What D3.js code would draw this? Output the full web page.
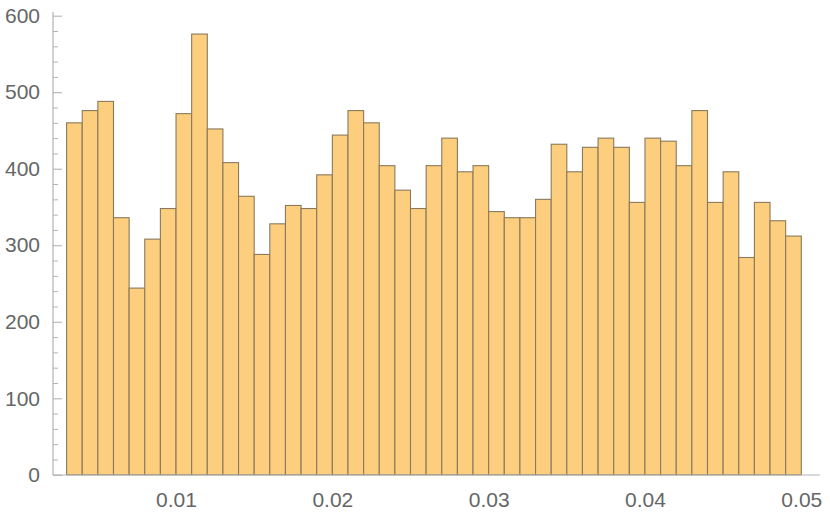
<!DOCTYPE html>
<html>
<head>
<meta charset="utf-8">
<script src="https://cdn.jsdelivr.net/npm/d3@7"></script>
<style>
  body { margin: 0; background: #fff; }
  svg { display: block; }
  text { font-family: "Liberation Sans", Arial, sans-serif; }
</style>
</head>
<body>
<svg id="chart" width="830" height="515"></svg>
<script>
const binStart = 0.003;
const binWidth = 0.001;
const counts = [460, 476, 488, 336, 244, 308, 348, 472, 576, 452, 408, 364, 288, 328, 352, 348, 392, 444, 476, 460, 404, 372, 348, 404, 440, 396, 404, 344, 336, 336, 360, 432, 396, 428, 440, 428, 356, 440, 436, 404, 476, 356, 396, 284, 356, 332, 312];
const xTickValues = [0.01, 0.02, 0.03, 0.04, 0.05];
const yMajorTicks = [0, 100, 200, 300, 400, 500, 600];

const bins = counts.map((c, i) => ({ x0: binStart + i * binWidth, x1: binStart + (i + 1) * binWidth, count: c }));

const svg = d3.select("#chart");
const frameLeft = 53, frameRight = 820, frameTop = 12, frameBottom = 475;

const x = d3.scaleLinear().domain([0.003, 0.05]).range([66.6, 801.3]);
const y = d3.scaleLinear().domain([0, 600]).range([474.8, 15.7]);

// bars
svg.append("g").selectAll("rect").data(bins).join("rect")
  .attr("x", d => x(d.x0))
  .attr("y", d => y(d.count))
  .attr("width", d => x(d.x1) - x(d.x0))
  .attr("height", d => y(0) - y(d.count))
  .attr("fill", "#FCCE7E")
  .attr("stroke", "rgb(138,122,92)")
  .attr("stroke-width", 1.1);

const axisColor = "#b3b3b3";
const labelColor = "#666666";

// x axis
const xAxis = svg.append("g").attr("transform", `translate(0,${frameBottom})`)
  .call(d3.axisBottom(x).tickValues(xTickValues).tickSize(0).tickPadding(17).tickFormat(d3.format(".2f")));
xAxis.select(".domain").remove();
xAxis.selectAll("text").attr("fill", labelColor).style("font-size", "21px");
svg.append("line").attr("x1", frameLeft).attr("x2", frameRight)
  .attr("y1", frameBottom).attr("y2", frameBottom)
  .attr("stroke", axisColor).attr("stroke-width", 1.2);

// y axis minor ticks
const minor = d3.range(0, 601, 20).filter(v => v % 100 !== 0);
const yMinor = svg.append("g").attr("transform", `translate(${frameLeft},0)`)
  .call(d3.axisLeft(y).tickValues(minor).tickSize(-5).tickFormat(""));
yMinor.select(".domain").remove();
yMinor.selectAll("line").attr("stroke", axisColor);

// y axis major
const yAxis = svg.append("g").attr("transform", `translate(${frameLeft},0)`)
  .call(d3.axisLeft(y).tickValues(yMajorTicks).tickSize(-9).tickPadding(13));
yAxis.select(".domain").remove();
yAxis.selectAll("line").attr("stroke", axisColor).attr("stroke-width", 1.1);
yAxis.selectAll("text").attr("fill", labelColor).style("font-size", "21px");
svg.append("line").attr("x1", frameLeft).attr("x2", frameLeft)
  .attr("y1", frameTop).attr("y2", frameBottom)
  .attr("stroke", axisColor).attr("stroke-width", 1.2);
</script>
</body>
</html>
